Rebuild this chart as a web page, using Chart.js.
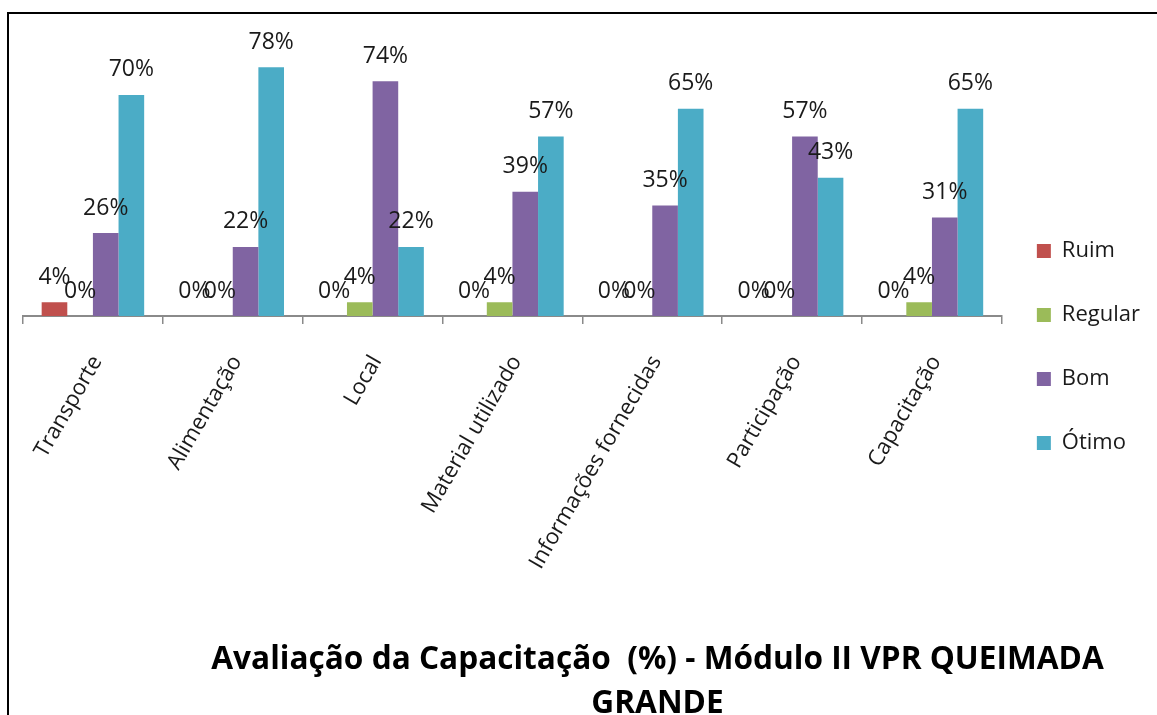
<!DOCTYPE html>
<html>
<head>
<meta charset="utf-8">
<script src="https://cdn.jsdelivr.net/npm/chart.js@4.4.1/dist/chart.umd.min.js"></script>
<style>
  html, body { margin: 0; padding: 0; background: #ffffff; width: 1157px; height: 715px; overflow: hidden; }
  #frame { position: absolute; left: 7px; top: 12px; width: 1400px; height: 900px; border-left: 2px solid #000; border-top: 2px solid #000; box-sizing: border-box; }
  #wrap { position: absolute; left: 0; top: 0; width: 1157px; height: 760px; }
</style>
</head>
<body>
<div id="frame"></div>
<div id="wrap"><canvas id="c" width="1157" height="760"></canvas></div>
<script>
// ---- data (percent of respondents) ----
const categories = ['Transporte', 'Alimentação', 'Local', 'Material utilizado', 'Informações fornecidas', 'Participação', 'Capacitação'];
const seriesNames = ['Ruim', 'Regular', 'Bom', 'Ótimo'];
const ruim    = [4.35, 0, 0, 0, 0, 0, 0];
const regular = [0, 0, 4.35, 4.35, 0, 0, 4.35];
const bom     = [26.09, 21.74, 73.91, 39.13, 34.78, 56.52, 31.0];
const otimo   = [69.57, 78.26, 21.74, 56.52, 65.22, 43.48, 65.22];
const yMax = 90;
const titleLines = ['Avaliação da Capacitação  (%) - Módulo II VPR QUEIMADA', 'GRANDE'];

const colors = ['#C0504D', '#9BBB59', '#8064A2', '#4BACC6'];
const seriesData = [ruim, regular, bom, otimo];

const valueLabels = {
  id: 'valueLabels',
  afterDatasetsDraw(chart) {
    const ctx = chart.ctx;
    ctx.save();
    ctx.font = '23px "Open Sans"';
    ctx.fillStyle = '#1a1a1a';
    ctx.textAlign = 'center';
    ctx.textBaseline = 'alphabetic';
    chart.data.datasets.forEach((ds, i) => {
      const meta = chart.getDatasetMeta(i);
      meta.data.forEach((bar, j) => {
        ctx.fillText(Math.round(ds.data[j]) + '%', bar.x, bar.y - 18.5);
      });
    });
    ctx.restore();
  }
};

const layoutTweak = {
  id: 'layoutTweak',
  afterLayout(chart) {
    const t = chart.titleBlock;
    if (t) {
      const dx = 657.5 - (t.left + t.right) / 2;
      t.left += dx; t.right += dx;
    }
    const lg = chart.legend;
    if (lg) {
      lg.left -= 7; lg.right -= 7;
      lg.top -= 48; lg.bottom -= 48;
    }
  }
};

new Chart(document.getElementById('c'), {
  type: 'bar',
  data: {
    labels: categories,
    datasets: seriesNames.map((name, i) => ({
      label: name,
      data: seriesData[i],
      backgroundColor: colors[i],
      borderWidth: 0,
      categoryPercentage: 0.733,
      barPercentage: 1.0
    }))
  },
  options: {
    responsive: false,
    animation: false,
    layout: { padding: { left: 23, right: 0, top: 30, bottom: 0 } },
    plugins: {
      tooltip: { enabled: false },
      legend: {
        position: 'right',
        align: 'center',
        labels: {
          boxWidth: 14, boxHeight: 14, padding: 42,
          color: '#1a1a1a',
          font: { family: 'Open Sans', size: 22 }
        }
      },
      title: {
        display: true,
        position: 'bottom',
        text: titleLines,
        color: '#000',
        font: { family: 'Open Sans', size: 31.6, weight: 'bold', lineHeight: 1.4 },
        padding: { top: 10, bottom: 34 }
      }
    },
    scales: {
      x: {
        grid: { display: true, drawOnChartArea: false, drawTicks: true, tickLength: 8, color: '#8a8a8a', lineWidth: 1.5, offset: true },
        border: { display: true, color: '#8a8a8a', width: 2 },
        ticks: {
          autoSkip: false, minRotation: 60, maxRotation: 60, padding: 27, labelOffset: 4,
          color: '#1a1a1a', font: { family: 'Open Sans', size: 22 }
        },
        afterFit(scale) { scale.height = 311.5; }
      },
      y: {
        display: false,
        min: 0, max: yMax
      }
    }
  },
  plugins: [valueLabels, layoutTweak]
});
</script>
</body>
</html>
